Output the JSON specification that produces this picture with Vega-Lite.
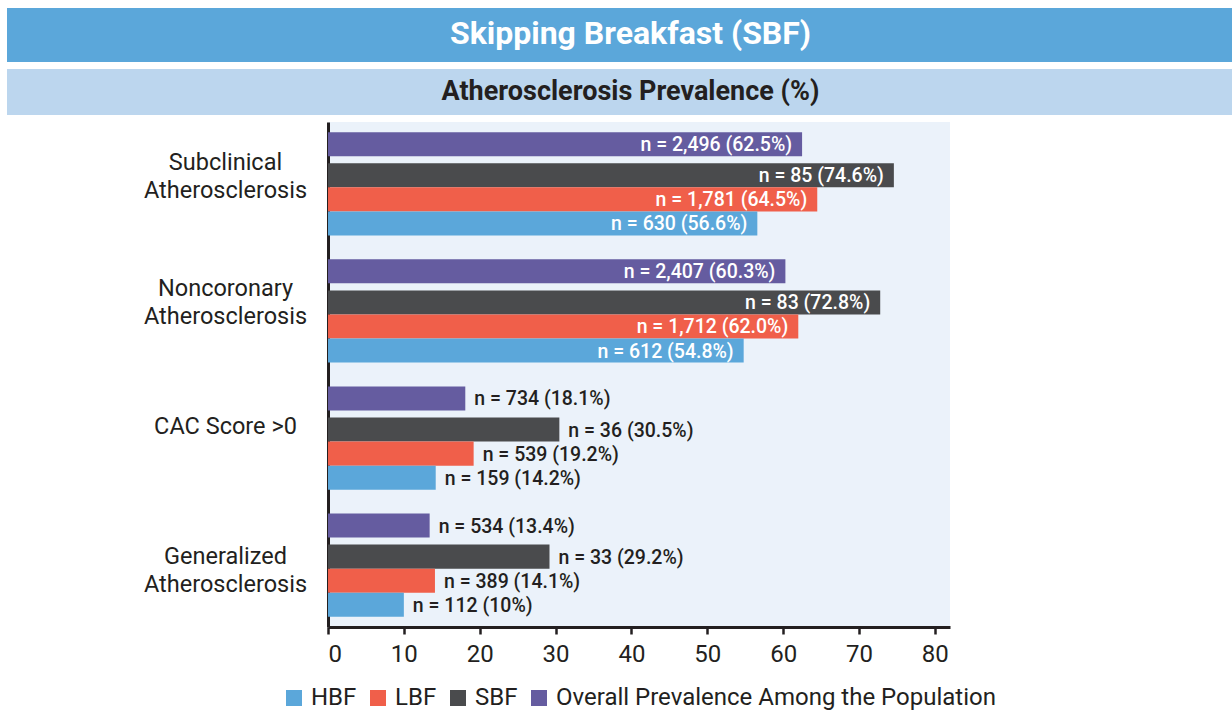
{
  "$schema": "https://vega.github.io/schema/vega-lite/v6.json",
  "padding": {"left": 7, "top": 8, "right": 0, "bottom": 0},
  "spacing": 7,
  "config": {
    "font": "Roboto",
    "view": {"stroke": null},
    "legend": {"layout": {"bottom": {"anchor": "middle"}}}
  },
  "resolve": {"legend": {"color": "independent"}},
  "vconcat": [
    {
      "width": 1225,
      "height": 54,
      "data": {"values": [{"title": "Skipping Breakfast (SBF)"}]},
      "layer": [
        {"mark": {"type": "rect", "fill": "#5BA7DA"}, "encoding": {}},
        {
          "mark": {"type": "text", "fontSize": 32, "fontWeight": "bold", "color": "#FFFFFF", "baseline": "middle", "align": "center", "dx": 11, "dy": -1},
          "encoding": {"text": {"field": "title"}}
        }
      ]
    },
    {
      "width": 1225,
      "height": 46,
      "data": {"values": [{"title": "Atherosclerosis Prevalence (%)"}]},
      "layer": [
        {"mark": {"type": "rect", "fill": "#BCD6EE"}, "encoding": {}},
        {
          "mark": {"type": "text", "fontSize": 27, "fontWeight": "bold", "color": "#231F20", "baseline": "middle", "align": "center", "dx": 11, "dy": 0},
          "encoding": {"text": {"field": "title"}}
        }
      ]
    },
    {
      "spacing": 0,
      "bounds": "flush",
      "resolve": {"legend": {"color": "independent"}},
      "hconcat": [
        {
          "width": 321,
          "height": 505,
          "data": {
            "values": [
              {"category": "Subclinical|Atherosclerosis"},
              {"category": "Noncoronary|Atherosclerosis"},
              {"category": "CAC Score >0"},
              {"category": "Generalized|Atherosclerosis"}
            ]
          },
          "encoding": {
            "y": {
              "field": "category",
              "type": "nominal",
              "sort": ["Subclinical|Atherosclerosis", "Noncoronary|Atherosclerosis", "CAC Score >0", "Generalized|Atherosclerosis"],
              "scale": {"paddingInner": 0.1873, "paddingOuter": 0.08},
              "axis": null
            },
            "text": {"field": "category"}
          },
          "layer": [
            {
              "transform": [{"filter": "datum.category == 'Subclinical|Atherosclerosis'"}],
              "mark": {"type": "text", "align": "center", "baseline": "middle", "lineBreak": "|", "lineHeight": 28, "fontSize": 23.5, "color": "#231F20", "dx": 58, "dy": -22}
            },
            {
              "transform": [{"filter": "datum.category == 'Noncoronary|Atherosclerosis'"}],
              "mark": {"type": "text", "align": "center", "baseline": "middle", "lineBreak": "|", "lineHeight": 28, "fontSize": 23.5, "color": "#231F20", "dx": 58, "dy": -22}
            },
            {
              "transform": [{"filter": "datum.category == 'CAC Score >0'"}],
              "mark": {"type": "text", "align": "center", "baseline": "middle", "fontSize": 23.5, "color": "#231F20", "dx": 58, "dy": -10.5}
            },
            {
              "transform": [{"filter": "datum.category == 'Generalized|Atherosclerosis'"}],
              "mark": {"type": "text", "align": "center", "baseline": "middle", "lineBreak": "|", "lineHeight": 28, "fontSize": 23.5, "color": "#231F20", "dx": 58, "dy": -7}
            }
          ]
        },
        {
          "width": 622,
          "height": 505,
          "view": {"fill": "#EBF2FA", "stroke": null},
          "data": {
            "values": [
              {"category": "Subclinical|Atherosclerosis", "group": "Overall Prevalence Among the Population", "value": 62.5, "label": "n = 2,496 (62.5%)"},
              {"category": "Subclinical|Atherosclerosis", "group": "SBF", "value": 74.6, "label": "n = 85 (74.6%)"},
              {"category": "Subclinical|Atherosclerosis", "group": "LBF", "value": 64.5, "label": "n = 1,781 (64.5%)"},
              {"category": "Subclinical|Atherosclerosis", "group": "HBF", "value": 56.6, "label": "n = 630 (56.6%)"},
              {"category": "Noncoronary|Atherosclerosis", "group": "Overall Prevalence Among the Population", "value": 60.3, "label": "n = 2,407 (60.3%)"},
              {"category": "Noncoronary|Atherosclerosis", "group": "SBF", "value": 72.8, "label": "n = 83 (72.8%)"},
              {"category": "Noncoronary|Atherosclerosis", "group": "LBF", "value": 62.0, "label": "n = 1,712 (62.0%)"},
              {"category": "Noncoronary|Atherosclerosis", "group": "HBF", "value": 54.8, "label": "n = 612 (54.8%)"},
              {"category": "CAC Score >0", "group": "Overall Prevalence Among the Population", "value": 18.1, "label": "n = 734 (18.1%)"},
              {"category": "CAC Score >0", "group": "SBF", "value": 30.5, "label": "n = 36 (30.5%)"},
              {"category": "CAC Score >0", "group": "LBF", "value": 19.2, "label": "n = 539 (19.2%)"},
              {"category": "CAC Score >0", "group": "HBF", "value": 14.2, "label": "n = 159 (14.2%)"},
              {"category": "Generalized|Atherosclerosis", "group": "Overall Prevalence Among the Population", "value": 13.4, "label": "n = 534 (13.4%)"},
              {"category": "Generalized|Atherosclerosis", "group": "SBF", "value": 29.2, "label": "n = 33 (29.2%)"},
              {"category": "Generalized|Atherosclerosis", "group": "LBF", "value": 14.1, "label": "n = 389 (14.1%)"},
              {"category": "Generalized|Atherosclerosis", "group": "HBF", "value": 10, "label": "n = 112 (10%)"}
            ]
          },
          "encoding": {
            "y": {
              "field": "category",
              "type": "nominal",
              "sort": ["Subclinical|Atherosclerosis", "Noncoronary|Atherosclerosis", "CAC Score >0", "Generalized|Atherosclerosis"],
              "scale": {"paddingInner": 0.1873, "paddingOuter": 0.08},
              "axis": {
                "title": null,
                "ticks": false,
                "labels": false,
                "domainColor": "#231F20",
                "domainWidth": 3,
                "minExtent": 0
              }
            },
            "x": {
              "field": "value",
              "type": "quantitative",
              "scale": {"domain": [0, 82], "nice": false},
              "axis": {
                "title": null,
                "values": [0, 10, 20, 30, 40, 50, 60, 70, 80],
                "grid": false,
                "domainColor": "#231F20",
                "domainWidth": 3,
                "tickColor": "#231F20",
                "tickWidth": 2.5,
                "tickSize": 7,
                "labelFontSize": 24,
                "labelColor": "#231F20",
                "labelPadding": 8
              }
            }
          },
          "resolve": {"scale": {"yOffset": "independent"}},
          "layer": [
            {
              "transform": [{"filter": "datum.group != 'Overall Prevalence Among the Population'"}],
              "encoding": {
                "yOffset": {
                  "field": "group",
                  "type": "nominal",
                  "scale": {"domain": ["Overall Prevalence Among the Population", "SBF", "LBF", "HBF"], "paddingInner": 0, "paddingOuter": 0.1458, "align": 1}
                }
              },
              "layer": [
                {
                  "mark": {"type": "bar"},
                  "encoding": {
                    "color": {
                      "field": "group",
                      "type": "nominal",
                      "scale": {
                        "domain": ["HBF", "LBF", "SBF", "Overall Prevalence Among the Population"],
                        "range": ["#5BA7DA", "#F05F4A", "#4A4B4D", "#655CA0"]
                      },
                      "legend": {
                        "title": null,
                        "orient": "bottom",
                        "direction": "horizontal",
                        "offset": 20,
                        "symbolType": "square",
                        "symbolSize": 256,
                        "symbolStrokeWidth": 0,
                        "labelFontSize": 24,
                        "labelColor": "#231F20",
                        "labelOffset": 5,
                        "columnPadding": 9,
                        "padding": 0,
                        "labelLimit": 600
                      }
                    }
                  }
                },
                {
                  "transform": [{"filter": "datum.value > 40"}],
                  "mark": {"type": "text", "align": "right", "baseline": "middle", "dx": -10, "dy": 1, "fontSize": 19.5, "fontWeight": 500, "color": "#FFFFFF"},
                  "encoding": {"text": {"field": "label"}}
                },
                {
                  "transform": [{"filter": "datum.value <= 40"}],
                  "mark": {"type": "text", "align": "left", "baseline": "middle", "dx": 9, "dy": 1, "fontSize": 19.5, "fontWeight": 500, "color": "#231F20"},
                  "encoding": {"text": {"field": "label"}}
                }
              ]
            },
            {
              "transform": [{"filter": "datum.group == 'Overall Prevalence Among the Population'"}],
              "encoding": {
                "yOffset": {
                  "field": "group",
                  "type": "nominal",
                  "scale": {"domain": ["Overall Prevalence Among the Population", "SBF", "LBF", "HBF"], "paddingInner": 0, "paddingOuter": 0.1458, "align": 0}
                }
              },
              "layer": [
                {
                  "mark": {"type": "bar"},
                  "encoding": {"color": {"field": "group", "type": "nominal"}}
                },
                {
                  "transform": [{"filter": "datum.value > 40"}],
                  "mark": {"type": "text", "align": "right", "baseline": "middle", "dx": -10, "dy": 1, "fontSize": 19.5, "fontWeight": 500, "color": "#FFFFFF"},
                  "encoding": {"text": {"field": "label"}}
                },
                {
                  "transform": [{"filter": "datum.value <= 40"}],
                  "mark": {"type": "text", "align": "left", "baseline": "middle", "dx": 9, "dy": 1, "fontSize": 19.5, "fontWeight": 500, "color": "#231F20"},
                  "encoding": {"text": {"field": "label"}}
                }
              ]
            }
          ]
        }
      ]
    }
  ]
}
